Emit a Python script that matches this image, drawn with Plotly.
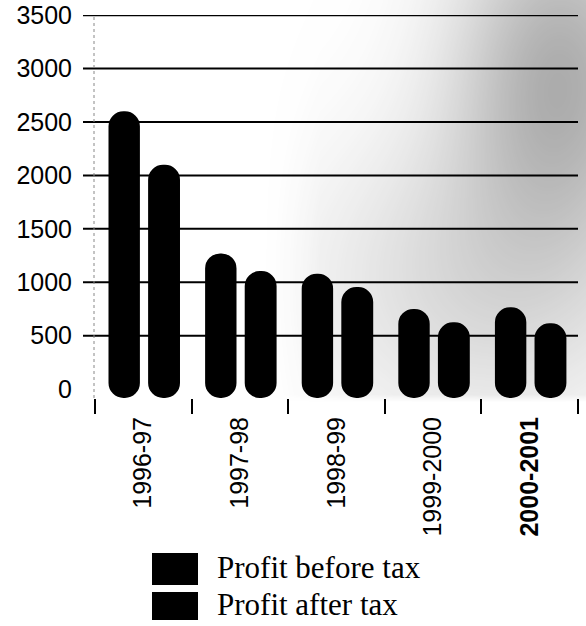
import base64
import struct
import zlib

import numpy as np
import plotly.graph_objects as go

# ---- data -------------------------------------------------------------
years = ["1996-97", "1997-98", "1998-99", "1999-2000", "2000-2001"]
year_labels = ["1996-97", "1997-98", "1998-99", "1999-2000", "<b>2000-2001</b>"]
series_names = ["Profit before tax", "Profit after tax"]
profit_before_tax = [2600, 1270, 1080, 750, 765]
profit_after_tax = [2100, 1105, 955, 625, 615]
y_tick_values = [0, 500, 1000, 1500, 2000, 2500, 3000, 3500]
grid_values = [500, 1000, 1500, 2000, 2500, 3000, 3500]

# ---- page geometry ----------------------------------------------------
W, H = 586, 626
ML, MR, MT, MB = 83, 8, 15, 228
PW, PH = W - ML - MR, H - MT - MB
Y_MIN, Y_MAX = -84, 3502
X_MIN, X_MAX = -0.624, 4.5
RADIUS = 16            # bar corner radius in px


def px_x(px):
    return (px - ML) / PW


def px_y(py):
    return (H - MB - py) / PH


def png_data_uri(rgba):
    h, w, _ = rgba.shape
    raw = b"".join(b"\x00" + rgba[r].tobytes() for r in range(h))

    def chunk(tag, data):
        body = tag + data
        return (struct.pack(">I", len(data)) + body
                + struct.pack(">I", zlib.crc32(body) & 0xFFFFFFFF))

    png = (b"\x89PNG\r\n\x1a\n"
           + chunk(b"IHDR", struct.pack(">IIBBBBB", w, h, 8, 6, 0, 0, 0))
           + chunk(b"IDAT", zlib.compress(raw, 9))
           + chunk(b"IEND", b""))
    return "data:image/png;base64," + base64.b64encode(png).decode()


# grey wash in the upper right of the plotting area
yy, xx = np.mgrid[0:H, 0:W].astype(float)
alpha = (0.42 * np.exp(-0.5 * (((xx - 560) / 75) ** 2 + ((yy - 70) / 120) ** 2))
         + 0.20 * np.exp(-0.5 * (((xx - 480) / 120) ** 2 + ((yy - 280) / 110) ** 2)))
alpha *= np.clip((402 - yy) / 8, 0, 1) * np.clip((xx - 260) / 60, 0, 1)
alpha = np.clip(alpha, 0, 0.6)
rgba = np.zeros((H, W, 4), dtype=np.uint8)
rgba[..., :3] = 70
rgba[..., 3] = (alpha * 255).astype(np.uint8)
haze_uri = png_data_uri(rgba)

fig = go.Figure()

offsets = [-0.36, 0.05]
widths = [0.325, 0.33]
for name, values, off, wd in zip(series_names,
                                 [profit_before_tax, profit_after_tax],
                                 offsets, widths):
    # pill-shaped bar hanging from the value down past the zero line
    fig.add_trace(go.Bar(
        x=years, y=[v - Y_MIN for v in values], base=Y_MIN, name=name,
        offset=off, width=wd,
        marker=dict(color="black", line=dict(width=0), cornerradius=RADIUS),
        customdata=values,
        hovertemplate="%{x}: %{customdata}<extra>" + name + "</extra>",
        showlegend=False,
    ))

shapes = []
for g in grid_values:
    shapes.append(dict(type="line", xref="paper", yref="y", x0=0, x1=1,
                       y0=g, y1=g, line=dict(color="black", width=2),
                       layer="below"))
# faint dotted vertical axis line
shapes.append(dict(type="line", xref="paper", yref="y",
                   x0=px_x(94), x1=px_x(94), y0=Y_MIN, y1=3500,
                   line=dict(color="#888888", width=1, dash="dot"),
                   layer="below"))

# legend drawn as blocks with serif captions
annotations = []
legend_rows = [(553, 585), (592, 620)]
for name, (top, bottom) in zip(series_names, legend_rows):
    shapes.append(dict(type="rect", xref="paper", yref="paper",
                       x0=px_x(152), x1=px_x(198),
                       y0=px_y(bottom), y1=px_y(top),
                       fillcolor="black", line=dict(width=0)))
    annotations.append(dict(
        text=name, xref="paper", yref="paper",
        x=px_x(215), y=px_y((top + bottom) / 2 - 2),
        xanchor="left", yanchor="middle", showarrow=False,
        font=dict(family="Liberation Serif", size=31, color="black"),
    ))

fig.update_layout(
    width=W, height=H,
    margin=dict(l=ML, r=MR, t=MT, b=MB, pad=0, autoexpand=False),
    paper_bgcolor="white", plot_bgcolor="rgba(0,0,0,0)",
    barmode="overlay",
    showlegend=False,
    font=dict(family="Liberation Sans", size=25, color="black"),
    shapes=shapes,
    annotations=annotations,
    images=[dict(source=haze_uri, xref="paper", yref="paper",
                 x=px_x(0), y=px_y(0), sizex=W / PW, sizey=H / PH,
                 xanchor="left", yanchor="top", sizing="stretch",
                 layer="below")],
    xaxis=dict(
        type="category", range=[X_MIN, X_MAX],
        tickmode="array", tickvals=years, ticktext=year_labels,
        tickangle=-90, tickson="boundaries",
        ticks="outside", ticklen=15, tickwidth=1.5, tickcolor="black",
        ticklabelstandoff=13, automargin=False,
        showgrid=False, showline=False, zeroline=False,
        tickfont=dict(family="Liberation Sans", size=25, color="black"),
    ),
    yaxis=dict(
        range=[Y_MIN, Y_MAX],
        tickmode="array", tickvals=y_tick_values,
        ticks="", showgrid=False, showline=False, zeroline=False,
        ticklabelstandoff=10, ticklabeloverflow="allow", automargin=False,
        tickfont=dict(family="Liberation Sans", size=25, color="black"),
    ),
)

fig.write_html("out.html")
